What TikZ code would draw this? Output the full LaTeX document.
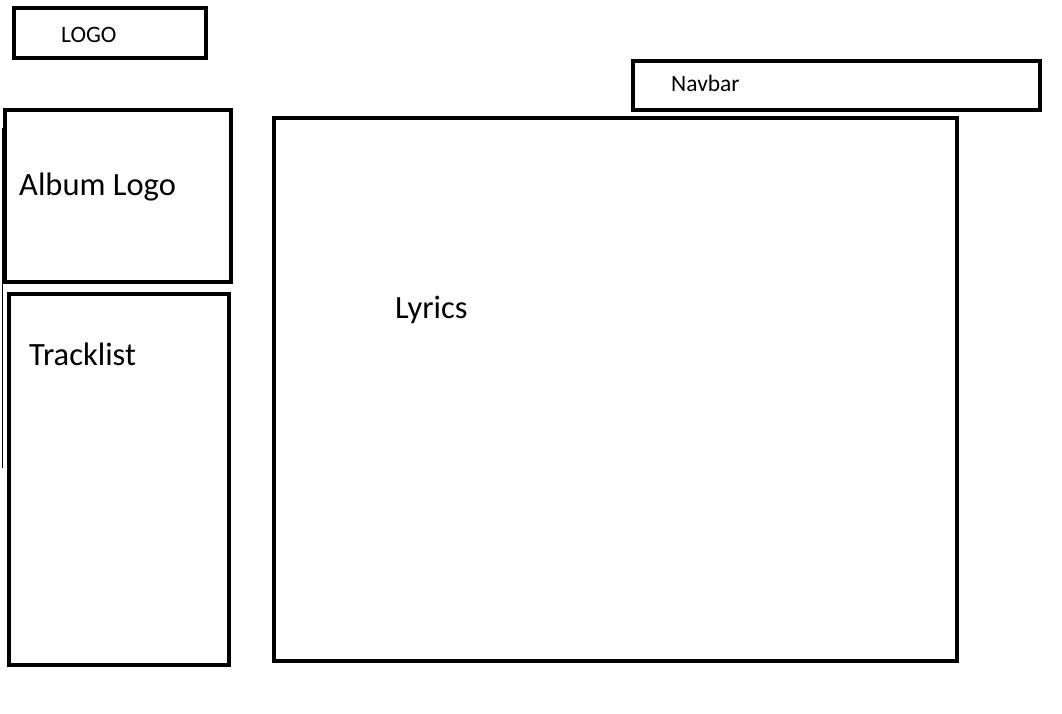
\documentclass[tikz,border=0pt]{standalone}
\usepackage{fontspec}
\setmainfont{Carlito}
\usetikzlibrary{positioning}
\tikzset{
  frame/.style={draw=black,line width=4.5pt,line join=miter},
  hair/.style={draw=black,line width=1pt},
  tag/.style={inner sep=0pt,anchor=base west,font=\fontsize{23.5}{28}\selectfont},
  bigtag/.style={inner sep=0pt,anchor=base west,font=\fontsize{32.5}{38}\selectfont},
}
\begin{document}
\begin{tikzpicture}[x=1pt,y=-1pt]
  \useasboundingbox[fill=white] (0,0) rectangle (1062,713);
  % frames of the page
  \draw[frame] (14,8) rectangle (206,58);
  \draw[frame] (633,61) rectangle (1040,110);
  \draw[frame] (5,110) rectangle (231,282);
  \draw[frame] (9,294) rectangle (229,665);
  \draw[frame] (274,118) rectangle (957,661);
  \draw[hair] (2,128) -- (2,468);
  % labels
  \node[tag] (logo) at (61,42) {LOGO};
  \node[tag] (navbar) at (671,91) {Navbar};
  \node[bigtag] (album) at (19,195) {Album Logo};
  \node[bigtag] (tracks) at (29,365) {Tracklist};
  \node[bigtag] (lyrics) at (395,318) {Lyrics};
\end{tikzpicture}
\end{document}
